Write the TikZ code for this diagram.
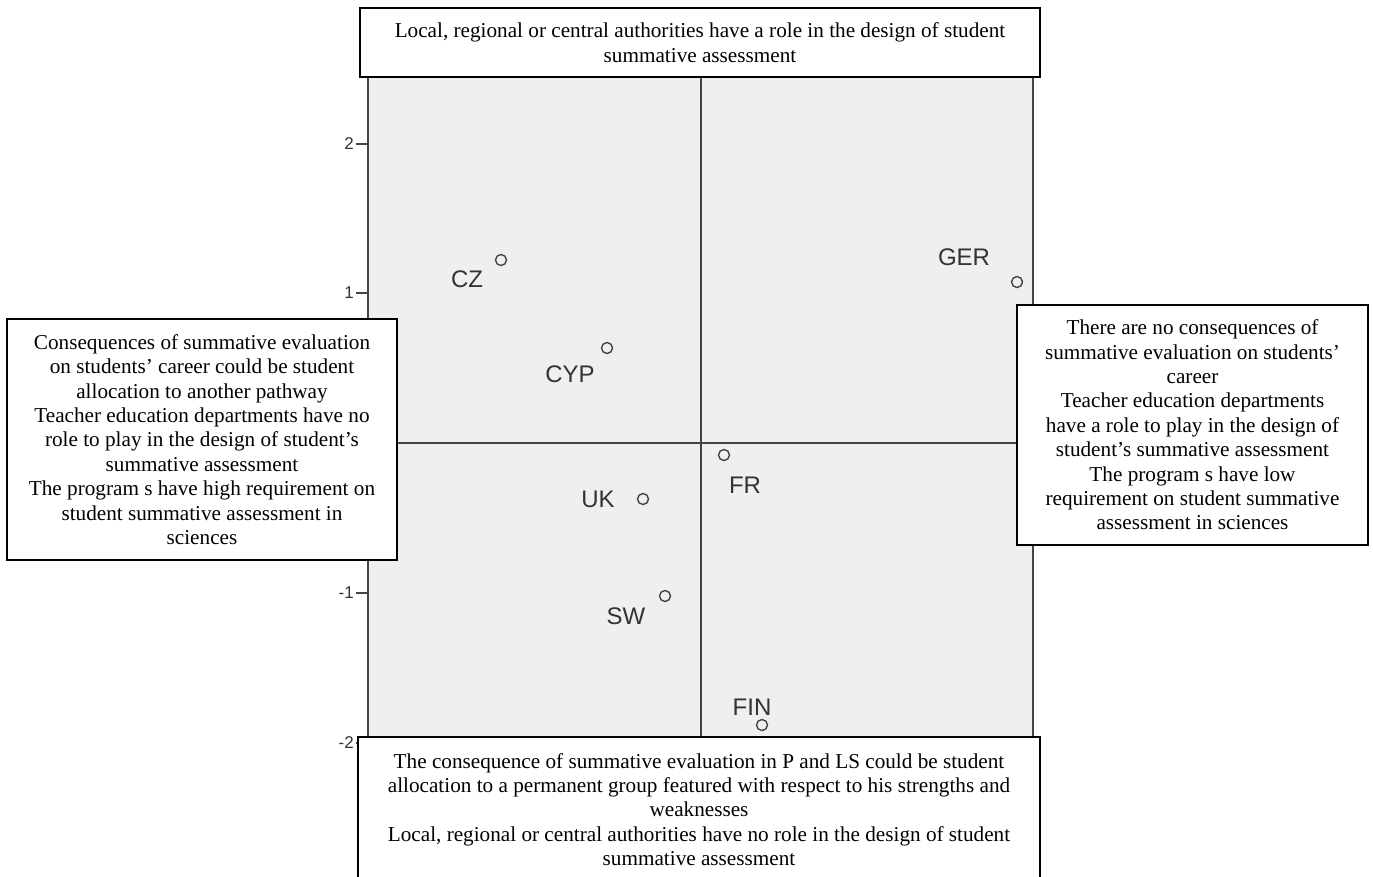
\documentclass[tikz,border=0pt]{standalone}
\usepackage{fontspec}
\setmainfont{Liberation Serif}
\newfontfamily\plotsans{Liberation Sans}
\definecolor{plotbg}{HTML}{EFEFEF}
\definecolor{axisgrey}{HTML}{444444}
\definecolor{labelgrey}{HTML}{333333}

\begin{document}
\begin{tikzpicture}[x=1pt,y=-1pt,
  notebox/.style={draw=black, line width=1.2pt, fill=white, align=center,
    inner sep=0pt, font=\fontsize{21.2}{24.4}\selectfont},
  marker/.style={circle, draw=axisgrey, line width=1.4pt, minimum size=11pt, inner sep=0pt},
  ptlabel/.style={font=\plotsans\fontsize{24}{24}\selectfont, text=labelgrey, inner sep=0pt},
  ticklabel/.style={font=\plotsans\fontsize{17}{17}\selectfont, text=labelgrey, anchor=east, inner sep=0pt},
  axisline/.style={draw=axisgrey, line width=1.7pt},
]
\useasboundingbox (0,0) rectangle (1373,876);

% plot area with the two dividing axes
\fill[plotbg] (368,70) rectangle (1033,740);
\draw[axisline] (368,70) rectangle (1033,740);
\draw[axisline] (701,70) -- (701,740);
\draw[axisline] (368,443) -- (1033,443);

% vertical scale
\foreach \yy/\lab in {144/2, 293/1, 593/-1, 743/-2}{
  \draw[axisline] (356,\yy) -- (368,\yy);
  \node[ticklabel] at (354,\yy) {\lab};
}

% object scores
\node[marker] (cz)  at (501,260) {};
\node[marker] (cyp) at (607,348) {};
\node[marker] (ger) at (1017,282) {};
\node[marker] (fr)  at (724,455) {};
\node[marker] (uk)  at (643,499) {};
\node[marker] (sw)  at (665,596) {};
\node[marker] (fin) at (762,725) {};

\node[ptlabel] (czl)  at (467,279) {CZ};
\node[ptlabel] (cypl) at (570,374) {CYP};
\node[ptlabel] (gerl) at (964,257) {GER};
\node[ptlabel] (frl)  at (745,485) {FR};
\node[ptlabel] (ukl)  at (598,499) {UK};
\node[ptlabel] (swl)  at (626,616) {SW};
\node[ptlabel] (finl) at (752,707) {FIN};

% dimension descriptions
\node[notebox, minimum width=680pt, minimum height=69pt] (top) at (700,42.5)
  {Local, regional or central authorities have a role in the design of student\\
   summative assessment};

\node[notebox, minimum width=390pt, minimum height=241pt] (left) at (202,439.5)
  {Consequences of summative evaluation\\
   on students’ career could be student\\
   allocation to another pathway\\
   Teacher education departments have no\\
   role to play in the design of student’s\\
   summative assessment\\
   The program s have high requirement on\\
   student summative assessment in\\
   sciences};

\node[notebox, minimum width=351pt, minimum height=240pt] (right) at (1192.5,425)
  {There are no consequences of\\
   summative evaluation on students’\\
   career\\
   Teacher education departments\\
   have a role to play in the design of\\
   student’s summative assessment\\
   The program s have low\\
   requirement on student summative\\
   assessment in sciences};

\node[notebox, minimum width=682pt, minimum height=145pt] (bottom) at (699,809.5)
  {The consequence of summative evaluation in P and LS could be student\\
   allocation to a permanent group featured with respect to his strengths and\\
   weaknesses\\
   Local, regional or central authorities have no role in the design of student\\
   summative assessment};
\end{tikzpicture}
\end{document}
